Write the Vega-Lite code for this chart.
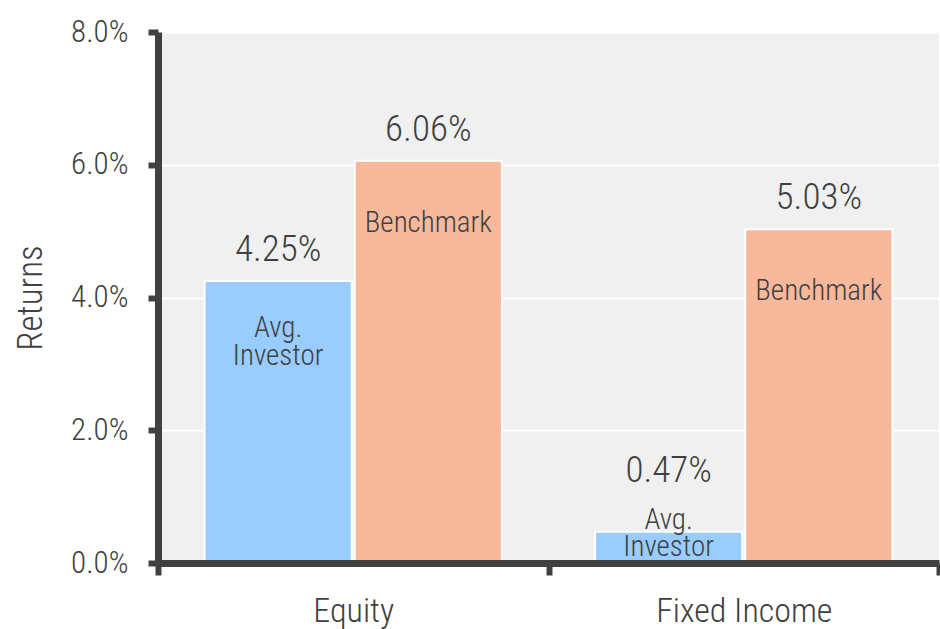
{
  "$schema": "https://vega.github.io/schema/vega-lite/v6.json",
  "autosize": {"type": "none"},
  "padding": {"left": 158, "top": 32, "right": 1, "bottom": 66},
  "width": 781,
  "height": 531,
  "config": {
    "font": "Roboto Condensed, Liberation Sans Narrow, DejaVu Sans Condensed, sans-serif",
    "view": {"fill": "#f0f0f0", "stroke": null},
    "axis": {"labelFontWeight": 300, "titleFontWeight": 300},
    "text": {"fontWeight": 300}
  },
  "data": {
    "values": [
      {"category": "Equity", "series": "Avg. Investor", "value": 0.0425},
      {"category": "Equity", "series": "Benchmark", "value": 0.0606},
      {"category": "Fixed Income", "series": "Avg. Investor", "value": 0.0047},
      {"category": "Fixed Income", "series": "Benchmark", "value": 0.0503}
    ]
  },
  "encoding": {
    "x": {
      "field": "category",
      "type": "nominal",
      "scale": {"paddingInner": 0, "paddingOuter": 0},
      "axis": {
        "title": null,
        "labelAngle": 0,
        "labelFontSize": 34,
        "labelColor": "#404040",
        "labelPadding": 19,
        "domainColor": "#404040",
        "domainWidth": 7,
        "tickColor": "#404040",
        "tickWidth": 6,
        "tickSize": 12,
        "tickBand": "extent",
        "zindex": 1
      }
    },
    "xOffset": {
      "field": "series",
      "type": "nominal",
      "scale": {"paddingInner": 0.02, "paddingOuter": 0.31}
    },
    "y": {
      "field": "value",
      "type": "quantitative",
      "scale": {"domain": [0, 0.08], "nice": false},
      "axis": {
        "title": "Returns",
        "titleFontSize": 35,
        "titleColor": "#404040",
        "titlePadding": 22,
        "format": ".1%",
        "values": [0, 0.02, 0.04, 0.06, 0.08],
        "labelFontSize": 31,
        "labelColor": "#404040",
        "labelPadding": 20,
        "domainColor": "#404040",
        "domainWidth": 7,
        "tickColor": "#404040",
        "tickWidth": 6,
        "tickSize": 10,
        "grid": true,
        "gridColor": "#ffffff",
        "gridWidth": 2,
        "gridOpacity": 1,
        "zindex": 0
      }
    }
  },
  "layer": [
    {
      "mark": {"type": "bar", "stroke": "#ffffff", "strokeWidth": 2},
      "encoding": {
        "color": {
          "field": "series",
          "type": "nominal",
          "scale": {"domain": ["Avg. Investor", "Benchmark"], "range": ["#99ccff", "#f8b89b"]},
          "legend": null
        }
      }
    },
    {
      "transform": [{"filter": "datum.value > 0.01"}],
      "mark": {"type": "text", "fontSize": 37, "color": "#404040", "baseline": "alphabetic", "dy": -20},
      "encoding": {"text": {"field": "value", "type": "quantitative", "format": ".2%"}}
    },
    {
      "transform": [{"filter": "datum.value <= 0.01"}],
      "mark": {"type": "text", "fontSize": 37, "color": "#404040", "baseline": "alphabetic", "dy": -50},
      "encoding": {"text": {"field": "value", "type": "quantitative", "format": ".2%"}}
    },
    {
      "transform": [{"filter": "datum.series == 'Benchmark'"}],
      "mark": {"type": "text", "fontSize": 29, "color": "#404040", "baseline": "middle", "dy": 62},
      "encoding": {"text": {"field": "series", "type": "nominal"}}
    },
    {
      "transform": [{"filter": "datum.series == 'Avg. Investor' && datum.value > 0.01"}],
      "mark": {"type": "text", "fontSize": 29, "color": "#404040", "baseline": "middle", "lineBreak": " ", "lineHeight": 28, "dy": 47},
      "encoding": {"text": {"field": "series", "type": "nominal"}}
    },
    {
      "transform": [{"filter": "datum.series == 'Avg. Investor' && datum.value <= 0.01"}],
      "mark": {"type": "text", "fontSize": 29, "color": "#404040", "baseline": "middle", "lineBreak": " ", "lineHeight": 27, "dy": -12},
      "encoding": {"text": {"field": "series", "type": "nominal"}}
    }
  ]
}
